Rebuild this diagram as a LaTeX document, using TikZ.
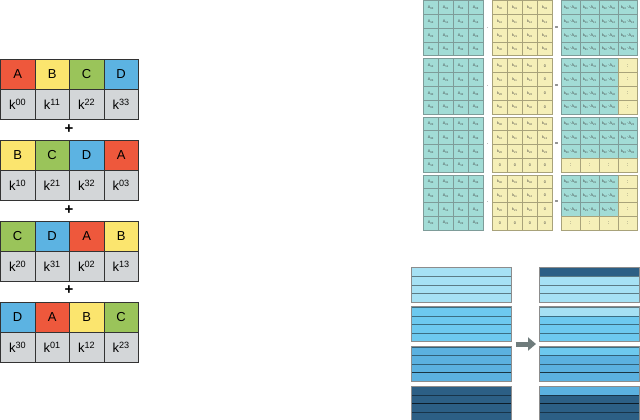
\documentclass[tikz,border=0pt]{standalone}
\usepackage{fontspec}
\setmainfont{Liberation Sans}
\usetikzlibrary{arrows.meta}
\definecolor{col0}{HTML}{EE583C}
\definecolor{col1}{HTML}{FBE56E}
\definecolor{col2}{HTML}{9AC45A}
\definecolor{col3}{HTML}{5CB3E2}
\definecolor{kgray}{HTML}{D3D6D8}
\definecolor{mteal}{HTML}{A2DCD6}
\definecolor{myel}{HTML}{F5EFB8}
\definecolor{mline}{HTML}{7E9C99}
\definecolor{yline}{HTML}{A8A27A}
\definecolor{st0}{HTML}{A6E1F4}
\definecolor{st1}{HTML}{6DC9EF}
\definecolor{st2}{HTML}{5BB1E0}
\definecolor{st3}{HTML}{2C5F85}
\definecolor{arrgray}{HTML}{6F7C7C}
\tikzset{
  cell/.style={draw=black!80, line width=0.8pt, minimum width=34.5pt, minimum height=30pt,
    inner sep=0pt, anchor=north west, font=\fontsize{13}{13}\selectfont},
  plus/.style={font=\fontsize{15}{15}\selectfont\bfseries, inner sep=0pt},
  mcell/.style={draw=mline, line width=0.7pt, minimum width=15pt, minimum height=13.75pt,
    inner sep=0pt, anchor=north west, font=\fontsize{3.8}{3.8}\selectfont, text=black!75},
  tcell/.style={mcell, fill=mteal},
  ycell/.style={mcell, fill=myel, draw=yline},
  op/.style={font=\fontsize{6}{6}\selectfont, inner sep=0pt},
  stripe/.style={draw=black, draw opacity=0.45, line width=0.6pt, minimum width=100pt,
    minimum height=8.6pt, inner sep=0pt, anchor=north west},
  grp/.style={draw=gray!90, line width=1pt},
  bigarrow/.style={-{Triangle[length=8pt,width=13pt]}, line width=5pt, color=arrgray}
}
\begin{document}
\begin{tikzpicture}[x=1pt,y=-1pt]
\useasboundingbox (0,0) rectangle (640,420);
% ---------- left: rotated blocks ----------
\foreach \b in {0,...,3}{
  \foreach \c in {0,...,3}{
    \pgfmathtruncatemacro\L{mod(\c+\b,4)}
    \node[cell, fill=col\L] (L\b\c) at ({34.5*\c},{59+81*\b})
      {\ifcase\L A\or B\or C\or D\fi};
    \node[cell, fill=kgray] (K\b\c) at ({34.5*\c},{89+81*\b})
      {k\textsuperscript{\L\c}};
  }
}
\node[plus] (p1) at (69,129) {+};
\node[plus] (p2) at (69,210) {+};
\node[plus] (p3) at (69,290.5) {+};
% ---------- right top: matrix products ----------
\foreach \r in {0,...,3}{
  \pgfmathsetmacro\ty{0.5+58*\r}
  \foreach \i in {0,...,3}{
    \foreach \j in {0,...,3}{
      \pgfmathtruncatemacro\ai{mod(\i+\r,4)}
      % left matrix
      \node[tcell] (A\r\i\j) at ({423+15*\j},{\ty+13.75*\i})
        {A\textsubscript{\ai\j}};
      % middle matrix
      \pgfmathtruncatemacro\zero{(\r==1 && \j==3) || (\r==2 && \i==3) || (\r==3 && (\i==3 || \j==3)) ? 1 : 0}
      \ifnum\zero=1
        \node[ycell] (B\r\i\j) at ({492+15*\j},{\ty+13.75*\i}) {0};
      \else
        \node[ycell] (B\r\i\j) at ({492+15*\j},{\ty+13.75*\i}) {k\textsubscript{\i\j}};
      \fi
      % result matrix
      \ifnum\zero=1
        \node[ycell, minimum width=19pt, font=\fontsize{5}{5}\selectfont] (C\r\i\j) at ({561+19*\j},{\ty+13.75*\i}) {:};
      \else
        \node[tcell, minimum width=19pt] (C\r\i\j) at ({561+19*\j},{\ty+13.75*\i})
          {k\textsubscript{\i\j}$\cdot$A\textsubscript{\ai\j}};
      \fi
    }
  }
  \node[op] (dot\r) at (487.5,{\ty+27.5}) {$\cdot$};
  \node[op] (eq\r) at (556.5,{\ty+27.5}) {=};
}
% ---------- right bottom: stripe shift ----------
\foreach \g in {0,...,3}{
  \pgfmathtruncatemacro\pg{mod(\g+3,4)}
  \foreach \s in {0,...,3}{
    \node[stripe, fill=st\g] (S\g\s) at (411,{267.3+39.6*\g+8.6*\s}) {};
    \ifnum\s=0
      \node[stripe, fill=st\pg] (T\g\s) at (539,{267.3+39.6*\g+8.6*\s}) {};
    \else
      \node[stripe, fill=st\g] (T\g\s) at (539,{267.3+39.6*\g+8.6*\s}) {};
    \fi
  }
  \draw[grp] (S\g0.north west) rectangle (S\g3.south east);
  \draw[grp] (T\g0.north west) rectangle (T\g3.south east);
}
\coordinate (a1) at (515.5,344);
\coordinate (a2) at (536,344);
\draw[bigarrow] (a1) -- (a2);
\end{tikzpicture}
\end{document}
